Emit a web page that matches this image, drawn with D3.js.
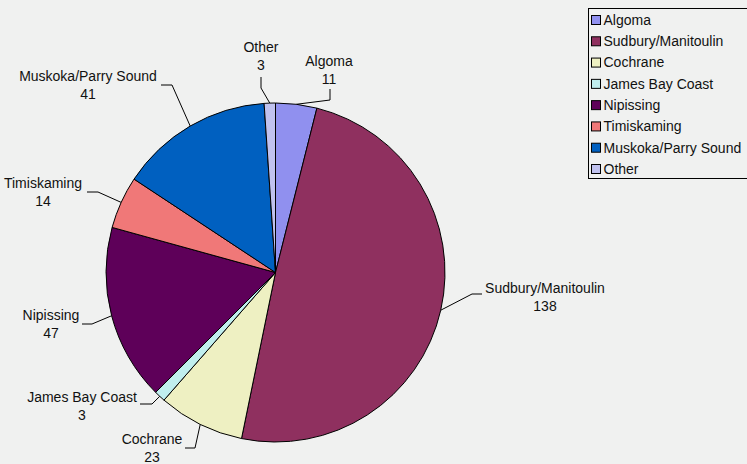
<!DOCTYPE html>
<html>
<head>
<meta charset="utf-8">
<script src="https://cdn.jsdelivr.net/npm/d3@7"></script>
<style>
  html, body { margin: 0; padding: 0; background: #f0f1f0; }
  svg { display: block; font-family: "Liberation Sans", Arial, sans-serif; }
</style>
</head>
<body>
<svg id="chart"></svg>
<script>
// data
const regions = ['Algoma', 'Sudbury/Manitoulin', 'Cochrane', 'James Bay Coast',
  'Nipissing', 'Timiskaming', 'Muskoka/Parry Sound', 'Other'];
const counts = [11, 138, 23, 3, 47, 14, 41, 3];
const colors = ['#9090ef', '#8f305f', '#eef0c2', '#c0eeee',
  '#5e0059', '#f07878', '#0060c0', '#c0c2ef'];

// where each data label sits (label centre, elbow, end of leader)
const labelLayout = [
  { x: 329, y: 61, elbow: [330, 100], end: [330, 89] },
  { x: 545, y: 288, elbow: [472, 294], end: [482, 294] },
  { x: 152, y: 439, elbow: [195, 448], end: [185, 448] },
  { x: 82, y: 397, elbow: [152, 404], end: [140, 404] },
  { x: 51, y: 315, elbow: [92, 324], end: [82, 324] },
  { x: 43, y: 183, elbow: [98, 192], end: [87, 192] },
  { x: 88, y: 76, elbow: [172, 85], end: [161, 85] },
  { x: 261, y: 47, elbow: [261, 88], end: [261, 77] },
];

const width = 747;
const height = 464;
const cx = 275.5;
const cy = 272.5;
const radius = 169.5;

const svg = d3.select('#chart')
  .attr('width', width)
  .attr('height', height);

svg.append('rect')
  .attr('width', width)
  .attr('height', height)
  .attr('fill', '#f0f1f0');

const rows = regions.map((name, i) => ({ name, value: counts[i], color: colors[i], label: labelLayout[i] }));

const pie = d3.pie()
  .value((d) => d.value)
  .sort(null);

const arc = d3.arc()
  .innerRadius(0)
  .outerRadius(radius);

const arcs = pie(rows);

const g = svg.append('g')
  .attr('transform', `translate(${cx},${cy})`);

g.selectAll('path.slice')
  .data(arcs)
  .enter().append('path')
  .attr('class', 'slice')
  .attr('d', arc)
  .attr('fill', (d) => d.data.color)
  .attr('stroke', '#000')
  .attr('stroke-width', 1)
  .attr('stroke-linejoin', 'round');

// leader lines: from slice edge midpoint to the label
const edgePoint = (d) => {
  const a = (d.startAngle + d.endAngle) / 2;
  return [cx + radius * Math.sin(a), cy - radius * Math.cos(a)];
};

svg.selectAll('polyline.leader')
  .data(arcs)
  .enter().append('polyline')
  .attr('class', 'leader')
  .attr('points', (d) => [edgePoint(d), d.data.label.elbow, d.data.label.end].map((p) => p.join(',')).join(' '))
  .attr('fill', 'none')
  .attr('stroke', '#000')
  .attr('stroke-width', 1);

const labels = svg.selectAll('text.lbl')
  .data(arcs)
  .enter().append('text')
  .attr('class', 'lbl')
  .attr('text-anchor', 'middle')
  .attr('font-size', 14)
  .attr('fill', '#111');

labels.append('tspan')
  .attr('x', (d) => d.data.label.x)
  .attr('y', (d) => d.data.label.y)
  .attr('dy', '0.35em')
  .text((d) => d.data.name);

labels.append('tspan')
  .attr('x', (d) => d.data.label.x)
  .attr('y', (d) => d.data.label.y + 18)
  .attr('dy', '0.35em')
  .text((d) => d.data.value);

// legend
const legend = svg.append('g')
  .attr('transform', 'translate(588.5,8.5)');

legend.append('rect')
  .attr('width', 170)
  .attr('height', 170)
  .attr('fill', '#f0f1f0')
  .attr('stroke', '#000')
  .attr('stroke-width', 1);

const ly = d3.scalePoint()
  .domain(regions)
  .range([11.5, 160.5]);

const item = legend.selectAll('g.item')
  .data(rows)
  .enter().append('g')
  .attr('class', 'item')
  .attr('transform', (d) => `translate(0,${ly(d.name)})`);

item.append('rect')
  .attr('x', 3)
  .attr('y', -4.5)
  .attr('width', 9)
  .attr('height', 9)
  .attr('fill', (d) => d.color)
  .attr('stroke', '#000')
  .attr('stroke-width', 1);

item.append('text')
  .attr('x', 15)
  .attr('dy', '0.35em')
  .attr('font-size', 14)
  .attr('fill', '#111')
  .text((d) => d.name);
</script>
</body>
</html>
